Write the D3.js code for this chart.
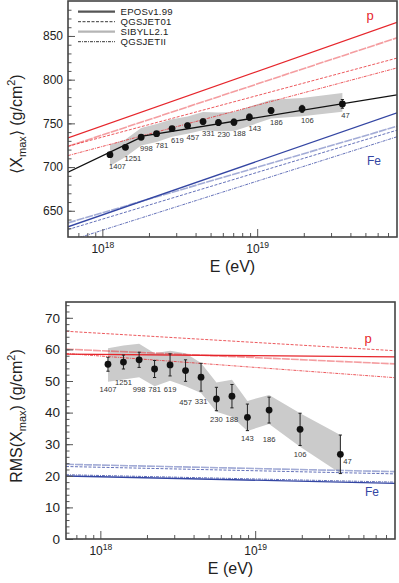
<!DOCTYPE html>
<html>
<head>
<meta charset="utf-8">
<script src="https://cdn.jsdelivr.net/npm/d3@7"></script>
<style>
  html, body { margin: 0; padding: 0; background: #fff; }
  svg { display: block; font-family: "Liberation Sans", Arial, Helvetica, sans-serif; }
</style>
</head>
<body>
<script>
"use strict";

// energy bins (eV) and number of events in each bin
const energies = [1.12e18, 1.41e18, 1.78e18, 2.24e18, 2.82e18, 3.55e18, 4.47e18,
                  5.62e18, 7.08e18, 8.91e18, 1.23e19, 1.95e19, 3.55e19];
const nEvents = [1407, 1251, 998, 781, 619, 457, 331, 230, 188, 143, 186, 106, 47];

// <Xmax> (g/cm2) with statistical and systematic errors
const xmaxMean = [714.2, 722.6, 734.1, 738.2, 744.1, 747.5, 752.1, 750.9, 751.4, 757.1, 764.6, 766.6, 772.3];
const xmaxStat = [1.6, 1.7, 1.9, 2.1, 2.4, 2.7, 3.0, 3.3, 3.6, 3.6, 3.4, 4.0, 5.0];
const xmaxSysUp = [11.4, 9, 10.5, 11, 10.5, 10.5, 11, 11.5, 11.5, 12, 12.5, 12.5, 12.5];
const xmaxSysDn = [13, 11, 9.5, 9.5, 9.5, 9.5, 10, 10, 10, 10, 9, 8.5, 9];

// broken line fit of <Xmax>
const fitEnergy = [6e17, 1.86e18, 8e19];
const fitXmax = [694.2, 735.7, 782.6];

// RMS(Xmax) (g/cm2) with statistical and systematic errors
const rmsMean = [55.3, 56.0, 56.7, 53.8, 55.1, 53.3, 51.2, 44.3, 45.2, 38.5, 40.8, 34.7, 26.8];
const rmsStat = [2.2, 2.2, 2.4, 2.7, 3.5, 3.4, 4.4, 3.7, 3.7, 4.2, 4.1, 5.1, 6.1];
const rmsSysUp = [5.1, 5.2, 5.1, 5, 4.5, 5.5, 4.5, 5.2, 5.2, 5.2, 4.8, 5.1, 6.1];
const rmsSysDn = [5.5, 5.5, 5.5, 5.5, 5, 5, 5, 4, 6.5, 4.3, 4.4, 5.5, 6];
// height (g/cm2) where the event counts are written in the lower panel
const rmsLabelAt = [47.4, 49.6, 47.4, 47.4, 47.4, 43.4, 43.7, 37.9, 37.9, 31.9, 31.6, 26.8, 24.7];

// model predictions, value at 1e18 and at 1e19 eV (straight in lg E)
const models = ["EPOSv1.99", "QGSJET01", "SIBYLL2.1", "QGSJETII"];
const modelEnergy = [1e18, 1e19];
const xmaxProton = [[747.2, 809.4], [734.3, 781.8], [736.7, 795.1], [723.6, 770.8]];
const xmaxIron = [[645.3, 706.6], [640.4, 693.9], [647.7, 699.7], [627.7, 683.9]];
const rmsProton = [[58.4, 58.0], [65.1, 62.2], [59.6, 57.4], [57.9, 54.3]];
const rmsIron = [[19.7, 18.6], [22.7, 21.6], [23.4, 22.3], [20.1, 19.0]];

const energyRange = [6e17, 8e19];
const xMinor = [7e17, 8e17, 9e17, 2e18, 3e18, 4e18, 5e18, 6e18, 7e18, 8e18, 9e18,
                2e19, 3e19, 4e19, 5e19, 6e19, 7e19];

const red = "#e6262c";
const blue = "#3446a3";
const modelStyle = [
    { width: 1.3, dash: null,      opacity: 1,    legend: "#555", legendWidth: 2.2 },
    { width: 0.9, dash: "3,1.5",   opacity: 0.85, legend: "#222", legendWidth: 0.9 },
    { width: 1.6, dash: "8,1",     opacity: 0.45, legend: "#b5b5b5", legendWidth: 2.2 },
    { width: 0.9, dash: "3,1,1,1", opacity: 0.85, legend: "#222", legendWidth: 0.9 }
];

const svg = d3.select("body").append("svg")
              .attr("width", 399)
              .attr("height", 583);

function drawPanel(o) {
    const x = d3.scaleLog().domain(energyRange).range([o.left, o.right]);
    const y = d3.scaleLinear().domain(o.yDomain).range([o.bottom, o.top]);

    svg.append("clipPath").attr("id", "clip-" + o.id)
       .append("rect")
       .attr("x", o.left).attr("y", o.top)
       .attr("width", o.right - o.left).attr("height", o.bottom - o.top);

    const plot = svg.append("g").attr("clip-path", `url(#clip-${o.id})`);

    // systematic uncertainty band
    const band = d3.area()
                   .x((d, i) => x(energies[i]))
                   .y0((d, i) => y(d - o.sysDn[i]))
                   .y1((d, i) => y(d + o.sysUp[i]));
    plot.append("path").datum(o.mean)
        .attr("d", band)
        .attr("fill", "#cbcbcb");

    // model lines for p and Fe
    const line = d3.line().x(d => x(d[0])).y(d => y(d[1]));
    const extend = v => energyRange.map(e => {
        const t = (Math.log10(e) - Math.log10(modelEnergy[0])) /
                  (Math.log10(modelEnergy[1]) - Math.log10(modelEnergy[0]));
        return [e, v[0] + (v[1] - v[0]) * t];
    });
    [[o.proton, red], [o.iron, blue]].forEach(([set, color]) => {
        set.forEach((v, i) => {
            const s = modelStyle[i];
            plot.append("path")
                .datum(extend(v))
                .attr("d", line)
                .attr("fill", "none")
                .attr("stroke", color)
                .attr("stroke-width", s.width)
                .attr("stroke-opacity", s.opacity)
                .attr("stroke-dasharray", s.dash);
        });
    });

    if (o.fit) {
        plot.append("path")
            .datum(d3.zip(fitEnergy, fitXmax))
            .attr("d", line)
            .attr("fill", "none")
            .attr("stroke", "#111")
            .attr("stroke-width", 1.3);
    }

    // statistical error bars
    const bars = plot.append("g").attr("stroke", "#222").attr("stroke-width", 1);
    o.mean.forEach((v, i) => {
        const cx = x(energies[i]);
        const y0 = y(v - o.stat[i]), y1 = y(v + o.stat[i]);
        bars.append("line").attr("x1", cx).attr("x2", cx).attr("y1", y0).attr("y2", y1);
        bars.append("line").attr("x1", cx - 1.6).attr("x2", cx + 1.6).attr("y1", y0).attr("y2", y0);
        bars.append("line").attr("x1", cx - 1.6).attr("x2", cx + 1.6).attr("y1", y1).attr("y2", y1);
    });

    plot.append("g").selectAll("circle")
        .data(o.mean)
        .join("circle")
        .attr("cx", (d, i) => x(energies[i]))
        .attr("cy", d => y(d))
        .attr("r", 3.4)
        .attr("fill", "#111");

    // number of events
    svg.append("g").selectAll("text")
       .data(nEvents)
       .join("text")
       .attr("x", (d, i) => o.labelX(x(energies[i]), i))
       .attr("y", (d, i) => o.labelY(y, i))
       .attr("dy", "0.35em")
       .attr("text-anchor", (d, i) => o.labelAnchor(i))
       .attr("font-size", "7.6px")
       .attr("fill", "#333")
       .text(d => d);

    // axes, ticks inside the frame
    const tidy = g => {
        g.select(".domain").remove();
        g.selectAll("line").attr("stroke", "#555");
    };
    svg.append("g")
       .attr("transform", `translate(${o.left},0)`)
       .call(d3.axisLeft(y).tickValues(o.yMinor).tickSize(-3.5).tickFormat(""))
       .call(tidy);
    svg.append("g")
       .attr("transform", `translate(${o.left},0)`)
       .call(d3.axisLeft(y).tickValues(o.yMajor).tickSize(-7).tickPadding(o.yPad))
       .call(tidy)
       .call(g => g.selectAll("text")
                   .attr("font-size", o.yFont)
                   .attr("font-family", "Liberation Sans, Arial, sans-serif")
                   .attr("fill", "#222"));
    svg.append("g")
       .attr("transform", `translate(0,${o.bottom})`)
       .call(d3.axisBottom(x).tickValues(xMinor).tickSize(-4).tickFormat(""))
       .call(tidy);
    svg.append("g")
       .attr("transform", `translate(0,${o.bottom})`)
       .call(d3.axisBottom(x).tickValues([1e18, 1e19]).tickSize(-8).tickFormat(""))
       .call(tidy)
       .call(g => g.selectAll(".tick").append("text")
                   .attr("y", 16)
                   .attr("text-anchor", "middle")
                   .attr("font-size", "12px")
                   .attr("font-family", "Liberation Sans, Arial, sans-serif")
                   .attr("fill", "#222")
                   .each(function(d) {
                       const t = d3.select(this);
                       t.append("tspan").text("10");
                       t.append("tspan").attr("dy", -5).attr("font-size", "8.5px")
                        .text(Math.round(Math.log10(d)));
                   }));

    svg.append("text")
       .attr("x", (o.left + o.right) / 2)
       .attr("y", o.bottom + 35)
       .attr("text-anchor", "middle")
       .attr("font-size", "16px")
       .attr("fill", "#222")
       .text("E (eV)");

    const yt = svg.append("text")
                  .attr("transform", `translate(22,${o.yTitleAt}) rotate(-90)`)
                  .attr("text-anchor", "middle")
                  .attr("font-size", "16px")
                  .attr("fill", "#222");
    yt.append("tspan").text(o.yTitle[0]);
    yt.append("tspan").attr("font-size", "11px").attr("dy", 4).text("max");
    yt.append("tspan").attr("dy", -4).text(o.yTitle[1]);
    yt.append("tspan").attr("font-size", "11px").attr("dy", -7).text("2");
    yt.append("tspan").attr("dy", 7).text(")");

    // p / Fe tags
    svg.append("text").attr("x", o.right - 30.5).attr("y", o.pAt)
       .attr("font-size", "13px").attr("fill", red).text("p");
    svg.append("text").attr("x", o.right - 30).attr("y", o.feAt)
       .attr("font-size", "12px").attr("fill", blue).text("Fe");

    svg.append("rect")
       .attr("x", o.left).attr("y", o.top)
       .attr("width", o.right - o.left).attr("height", o.bottom - o.top)
       .attr("fill", "none")
       .attr("stroke", "#444")
       .attr("stroke-width", 1.6);

    return { x, y };
}

// upper panel: <Xmax>
drawPanel({
    id: "mean",
    left: 68, right: 397, top: 1, bottom: 237,
    yDomain: [620, 890],
    yMajor: d3.range(650, 851, 50),
    yMinor: d3.range(630, 890, 10),
    yPad: 5, yFont: "12px",
    mean: xmaxMean, stat: xmaxStat, sysUp: xmaxSysUp, sysDn: xmaxSysDn,
    proton: xmaxProton, iron: xmaxIron,
    fit: true,
    labelX: (px, i) => px - 1,
    labelY: (y, i) => y(xmaxMean[i]) + 11.5,
    labelAnchor: () => "start",
    yTitle: ["\u27E8X", "\u27E9 (g/cm"],
    yTitleAt: 124,
    pAt: 19.5, feAt: 165
});

// lower panel: RMS(Xmax)
drawPanel({
    id: "rms",
    left: 66, right: 395, top: 302, bottom: 539,
    yDomain: [0, 75],
    yMajor: d3.range(0, 71, 10),
    yMinor: d3.range(2, 75, 2),
    yPad: 6, yFont: "13.5px",
    mean: rmsMean, stat: rmsStat, sysUp: rmsSysUp, sysDn: rmsSysDn,
    proton: rmsProton, iron: rmsIron,
    fit: false,
    labelX: (px, i) => i === nEvents.length - 1 ? px + 3 : px,
    labelY: (y, i) => y(rmsLabelAt[i]),
    labelAnchor: i => i === nEvents.length - 1 ? "start" : "middle",
    yTitle: ["RMS(X", ") (g/cm"],
    yTitleAt: 416,
    pAt: 342.5, feAt: 495.7
});

// legend of the upper panel
const legend = svg.append("g");
models.forEach((name, i) => {
    const s = modelStyle[i];
    const ly = 11.7 + i * 10;
    legend.append("line")
          .attr("x1", 78).attr("x2", 115)
          .attr("y1", ly).attr("y2", ly)
          .attr("stroke", s.legend)
          .attr("stroke-width", s.legendWidth)
          .attr("stroke-dasharray", i === 0 || i === 2 ? null : s.dash);
    legend.append("text")
          .attr("x", 120.5).attr("y", ly)
          .attr("dy", "0.36em")
          .attr("font-size", "9.6px")
          .attr("letter-spacing", "0.25px")
          .attr("fill", "#222")
          .text(name);
});
</script>
</body>
</html>
